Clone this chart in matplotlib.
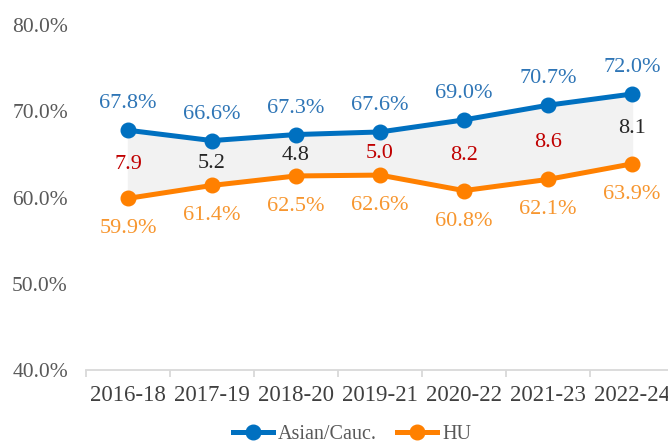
import matplotlib.pyplot as plt
import numpy as np

periods = ['2016-18', '2017-19', '2018-20', '2019-21', '2020-22', '2021-23', '2022-24']
asian_cauc = [67.8, 66.6, 67.3, 67.6, 69.0, 70.7, 72.0]
hu = [59.9, 61.4, 62.5, 62.6, 60.8, 62.1, 63.9]
gap_colors = ['#C00000', '#262626', '#262626', '#C00000', '#C00000', '#C00000', '#262626']

blue = '#0070C0'
orange = '#FF8000'
blue_text = '#2E75B6'
orange_text = '#F7962F'

plt.rcParams['font.family'] = ['Liberation Serif', 'DejaVu Serif']

fig = plt.figure(figsize=(6.68, 4.45), dpi=100)
ax = fig.add_axes([0.1287, 0.1685, 0.8803, 0.7753])

x = np.arange(len(periods))
ax.fill_between(x, hu, asian_cauc, color='#F2F2F2', zorder=1)
ax.plot(x, asian_cauc, color=blue, lw=3.6, marker='o', ms=10.5,
        label='Asian/Cauc.', zorder=3)
ax.plot(x, hu, color=orange, lw=3.6, marker='o', ms=10.5,
        label='HU', zorder=3)

# value labels above/below each point, gap label in between
for i in range(len(periods)):
    ax.annotate(f'{asian_cauc[i]:.1f}%', (x[i], asian_cauc[i]), xytext=(0, 19),
                textcoords='offset points', ha='center', va='center',
                fontsize=16, color=blue_text)
    ax.annotate(f'{hu[i]:.1f}%', (x[i], hu[i]), xytext=(0, -22),
                textcoords='offset points', ha='center', va='center',
                fontsize=16, color=orange_text)
    gap = asian_cauc[i] - hu[i]
    ax.text(x[i], (asian_cauc[i] + hu[i]) / 2, f'{gap:.1f}', ha='center',
            va='center', fontsize=16, color=gap_colors[i], zorder=4)

ax.set_xlim(-0.5, len(periods) - 0.5)
ax.set_ylim(40, 80)
ax.set_yticks([40, 50, 60, 70, 80])
ax.set_yticklabels([f'{v:.1f}%' for v in [40, 50, 60, 70, 80]])
ax.set_xticks(x)
ax.set_xticklabels(periods)
ax.set_xticks(np.arange(-0.5, len(periods)), minor=True)

for side in ['top', 'right', 'left']:
    ax.spines[side].set_visible(False)
ax.spines['bottom'].set_color('#D9D9D9')
ax.spines['bottom'].set_linewidth(1.3)

ax.tick_params(axis='y', length=0, pad=13, labelsize=15.5, labelcolor='#595959')
ax.tick_params(axis='x', which='major', length=0, pad=11, labelsize=16.5,
               labelcolor='#404040')
ax.tick_params(axis='x', which='minor', length=5, width=1.3, color='#D9D9D9')

fig.legend(loc='center', bbox_to_anchor=(0.527, 0.024), ncol=2, frameon=False,
           fontsize=14.5, labelcolor='#595959', handlelength=2.0,
           handletextpad=0.25, columnspacing=1.0, borderpad=0.1)

fig.savefig('out.png', dpi=100)
